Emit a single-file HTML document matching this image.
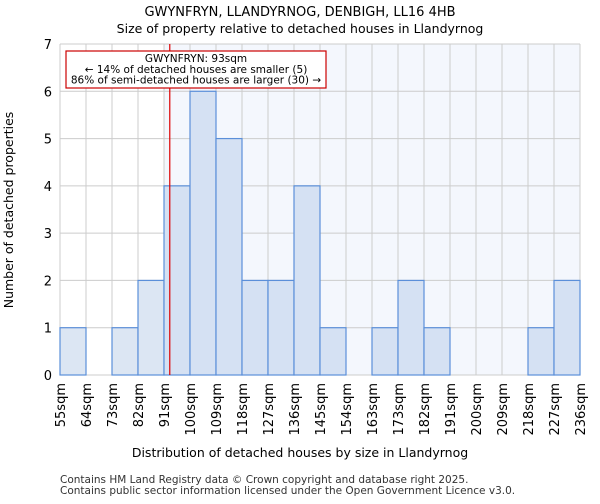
<!DOCTYPE html>
<html><head><meta charset="utf-8"><style>
body{margin:0;background:#fff;font-family:"DejaVu Sans","Liberation Sans",sans-serif}
</style></head><body>
<svg id="c" width="600" height="500" font-family="DejaVu Sans, Liberation Sans, sans-serif">
<text x="300" y="16" text-anchor="middle" font-size="13">GWYNFRYN, LLANDYRNOG, DENBIGH, LL16 4HB</text>
<text x="300" y="33" text-anchor="middle" font-size="12.5">Size of property relative to detached houses in Llandyrnog</text>
<g id="plot"></g>
<text x="300" y="457" text-anchor="middle" font-size="12.5">Distribution of detached houses by size in Llandyrnog</text>
<text transform="translate(13,210) rotate(-90)" text-anchor="middle" font-size="12.5">Number of detached properties</text>
<text x="60" y="483" font-size="10.5" fill="#333">Contains HM Land Registry data © Crown copyright and database right 2025.</text>
<text x="60" y="494" font-size="10.5" fill="#333">Contains public sector information licensed under the Open Government Licence v3.0.</text>
</svg>
<script>
const tickLabels=["55sqm","64sqm","73sqm","82sqm","91sqm","100sqm","109sqm","118sqm","127sqm","136sqm","145sqm","154sqm","163sqm","173sqm","182sqm","191sqm","200sqm","209sqm","218sqm","227sqm","236sqm"];
const counts=[1,0,1,2,4,6,5,2,2,4,1,0,1,2,1,0,0,0,1,2];
const yTicks=[0,1,2,3,4,5,6,7];
const propertyBin=4, propertyFrac=2/9;
const L=60,R=580,T=44,B=375,yMax=7;
const bw=(R-L)/counts.length;
const x=i=>L+i*bw, y=v=>B-(B-T)*v/yMax;
const g=document.getElementById('plot');
const NS="http://www.w3.org/2000/svg";
function mk(t,a){const e=document.createElementNS(NS,t);for(const k in a)e.setAttribute(k,a[k]);g.appendChild(e);return e;}
let bg=mk('rect',{x:x(propertyBin),y:T,width:R-x(propertyBin),height:B-T,fill:'#f4f7fd'});


yTicks.forEach(v=>{let l=mk('line',{x1:L,x2:R,y1:y(v),y2:y(v),stroke:'#ccc'});


let t=mk('text',{x:L-8,y:y(v)+5,'text-anchor':'end','font-size':13});t.textContent=v;

});
tickLabels.forEach((s,i)=>{let l=mk('line',{x1:x(i),x2:x(i),y1:T,y2:B,stroke:'#ccc'});


let t=mk('text',{'font-size':13,'text-anchor':'end',transform:`translate(${x(i)+5},${B+8}) rotate(-90)`});t.textContent=s;

});
counts.forEach((c,i)=>{if(!c)return;let r=mk('rect',{x:x(i),y:y(c),width:bw,height:B-y(c),fill:i<propertyBin?'#dce6f3':'#d5e1f3',stroke:'#5b8fd9','stroke-width':1.2});

});
let pl=mk('line',{x1:x(propertyBin+propertyFrac),x2:x(propertyBin+propertyFrac),y1:T,y2:B,stroke:'#d00','stroke-width':1.2});


let box=mk('rect',{x:66,y:51,width:260,height:37,fill:'#fff',stroke:'#c00','stroke-width':1.2});


["GWYNFRYN: 93sqm","← 14% of detached houses are smaller (5)","86% of semi-detached houses are larger (30) →"].forEach((s,i)=>{let t=mk('text',{x:196,y:62+i*10.8,'text-anchor':'middle','font-size':10.5});t.textContent=s;

});
</script>
</body></html>
